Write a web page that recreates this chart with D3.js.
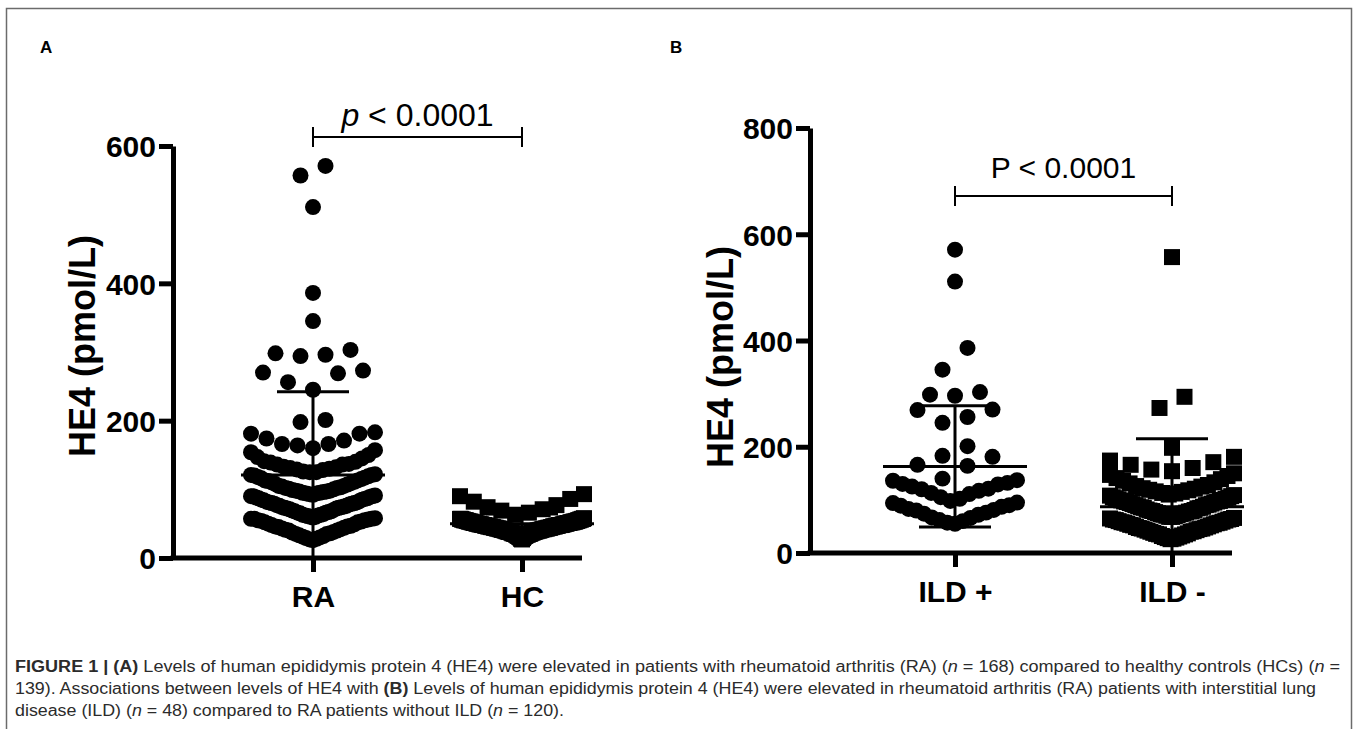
<!DOCTYPE html>
<html>
<head>
<meta charset="utf-8">
<script src="https://cdn.jsdelivr.net/npm/d3@7"></script>
<style>
  body { margin: 0; background: #fff; }
  svg { display: block; }
</style>
</head>
<body>
<svg id="fig" width="1358" height="729"></svg>
<script>
// ---- values ----
const categoriesA = ["RA", "HC"];
const categoriesB = ["ILD +", "ILD -"];
const ticksA = [0, 200, 400, 600];
const ticksB = [0, 200, 400, 600, 800];

// RA patients with ILD (n = 48)
const ildPos = [
  571, 511, 386, 345, 303, 298, 296, 270, 269, 256, 245, 201, 183, 181, 166, 164,
  140, 137, 136, 132, 130, 129, 125, 121, 120, 117, 113, 111, 105, 102,
  98, 95, 94, 90, 89, 87, 83, 81, 80, 76, 74, 72, 67, 66, 62, 60, 57, 55
];

// RA patients without ILD (n = 120)
const ildNeg = [
  557, 294, 273, 198,
  181, 174, 171, 166, 160, 157, 154, 150, 147, 145, 141, 139, 136, 133, 131,
  128, 126, 125, 122, 121, 119, 118, 116, 115, 113, 112, 110, 109, 108, 107,
  105, 104, 103, 102, 101, 100, 99, 98, 97, 97, 96, 95,
  94, 93, 92, 91, 90, 90, 88, 87, 86, 85, 85, 84, 82, 81, 80, 79, 79, 78, 77, 76,
  75, 74, 73, 73, 72, 71, 70, 69, 68, 68, 66, 65, 64, 63, 63, 62, 61, 60, 59, 58,
  57, 57, 56, 55, 54, 53, 52, 52, 50, 49, 48, 47, 46, 46, 45, 44, 43, 42, 41, 40,
  40, 38, 37, 36, 35, 35, 33, 32, 31, 30, 29, 28, 27, 26
];

// all RA patients (n = 168) are the two ILD groups together
const raValues = ildPos.concat(ildNeg);

// healthy controls (n = 139)
const hcValues = [
  93, 90, 86, 82, 77, 74, 71, 69, 66, 63,
  58, 57, 57, 56, 56, 55, 55, 55, 54, 54, 53, 53, 53, 52, 52, 51, 51, 51, 50, 50,
  50, 49, 49, 48, 48, 48, 47, 47, 46, 46, 46, 45, 45, 44, 44, 44, 43, 43, 42, 42,
  42, 41, 41, 40, 40, 40, 39, 39, 38, 38, 38, 37, 37, 36, 36, 35, 35, 35, 34, 34,
  33, 33, 32, 32, 31, 31, 30, 29, 28, 27, 57, 54, 52, 49, 47, 45, 43, 41, 39, 36,
  56, 55, 53, 51, 50, 48, 46, 44, 42, 40, 37, 34, 52, 49, 47, 45, 43, 53, 50, 48,
  46, 44, 41, 38, 55, 51, 47, 43, 39, 35, 54, 46, 42, 50, 48,
  44, 52, 56, 40, 38, 49, 47, 53, 45, 51, 43, 41, 57, 48
];

// mean and SD bars as drawn
const meansA = [121, 50];
const sdsA = [121, 14];
const meansB = [163, 87];
const sdsB = [114, 128];

const pTextA = ["p", " < 0.0001"];
const pTextB = ["", "P < 0.0001"];

const captionLines = [
  [["b", "FIGURE 1 | (A)"], ["", " Levels of human epididymis protein 4 (HE4) were elevated in patients with rheumatoid arthritis (RA) ("],
   ["i", "n"], ["", " = 168) compared to healthy controls (HCs) ("], ["i", "n"], ["", " ="]],
  [["", "139). Associations between levels of HE4 with "], ["b", "(B)"],
   ["", " Levels of human epididymis protein 4 (HE4) were elevated in rheumatoid arthritis (RA) patients with interstitial lung"]],
  [["", "disease (ILD) ("], ["i", "n"], ["", " = 48) compared to RA patients without ILD ("], ["i", "n"], ["", " = 120)."]]
];

// ---- drawing ----
const svg = d3.select("#fig");
const FONT = "'Liberation Sans', Arial, Helvetica, sans-serif";

// figure frame
svg.append("rect")
  .attr("x", 6.5).attr("y", 8.5)
  .attr("width", 1345).attr("height", 740)
  .attr("fill", "none").attr("stroke", "#6b6b6b").attr("stroke-width", 1.5);

// places each group's points in rows, spread out from the centre (Prism style)
function swarm(values, y, cx, rowPx, maxStep, maxHalf) {
  const sorted = values.slice().sort((a, b) => a - b);
  const rows = [];
  let row = [];
  sorted.forEach((v) => {
    if (row.length && y(row[0]) - y(v) > rowPx) {
      rows.push(row);
      row = [];
    }
    row.push(v);
  });
  if (row.length) rows.push(row);

  const pts = [];
  rows.forEach((r) => {
    const n = r.length;
    const step = n > 1 ? Math.min(maxStep, (2 * maxHalf) / (n - 1)) : 0;
    const slots = d3.range(n).map((i) => (i - (n - 1) / 2) * step);
    slots.sort((a, b) => Math.abs(a) - Math.abs(b) || a - b);
    r.forEach((v, i) => pts.push({ v: v, x: cx + slots[i], y: y(v) }));
  });
  return pts;
}

function drawPanel(o) {
  const g = svg.append("g");

  const y = d3.scaleLinear().domain([0, o.ticks[o.ticks.length - 1]]).range([o.y0, o.yTop]);
  const x = d3.scalePoint().domain(o.cats).range(o.catRange);

  // points
  o.series.forEach((vals, i) => {
    const pts = swarm(vals, y, x(o.cats[i]), 22, 25, 62);
    const sym = d3.symbol().type(o.shapes[i]).size(o.shapes[i] === d3.symbolCircle ? 201 : 256);
    g.append("g").selectAll("path")
      .data(pts)
      .join("path")
      .attr("transform", (d) => `translate(${d.x},${d.y})`)
      .attr("d", sym)
      .attr("fill", "#000");
  });

  // mean +/- SD
  o.cats.forEach((c, i) => {
    const cx = x(c);
    const m = o.means[i], s = o.sds[i];
    const bars = g.append("g").attr("stroke", "#000").attr("stroke-width", 3);
    bars.append("line").attr("x1", cx - 72).attr("x2", cx + 72).attr("y1", y(m)).attr("y2", y(m));
    bars.append("line").attr("x1", cx).attr("x2", cx)
      .attr("y1", y(m + s)).attr("y2", y(Math.max(0, m - s)));
    bars.append("line").attr("x1", cx - 36).attr("x2", cx + 36).attr("y1", y(m + s)).attr("y2", y(m + s));
    if (m - s > 0) {
      bars.append("line").attr("x1", cx - 36).attr("x2", cx + 36)
        .attr("y1", y(m - s)).attr("y2", y(m - s));
    }
  });

  // y axis
  const ya = g.append("g")
    .attr("transform", `translate(${o.axisX},0)`)
    .call(d3.axisLeft(y).tickValues(o.ticks).tickSize(14).tickSizeOuter(0).tickPadding(3).tickFormat(d3.format("d")));
  ya.selectAll("path, line").attr("stroke", "#000").attr("stroke-width", 5);
  ya.selectAll("text")
    .attr("font-family", FONT).attr("font-weight", "bold").attr("font-size", 30)
    .attr("fill", "#000").attr("dy", "0.36em");

  // x axis
  const xa = g.append("g")
    .attr("transform", `translate(0,${o.y0})`)
    .call(d3.axisBottom(x).tickSize(14).tickPadding(14));
  xa.select(".domain").remove();
  xa.append("line")
    .attr("x1", o.axisX - 2.5).attr("x2", o.xEnd)
    .attr("stroke", "#000").attr("stroke-width", 5);
  xa.selectAll("line").attr("stroke", "#000").attr("stroke-width", 5);
  xa.selectAll("text")
    .attr("font-family", FONT).attr("font-weight", "bold").attr("font-size", 30)
    .attr("fill", "#000");

  // y axis title
  g.append("text")
    .attr("transform", `translate(${o.titleX},${o.titleY}) rotate(-90)`)
    .attr("text-anchor", "middle")
    .attr("font-family", FONT).attr("font-weight", "bold").attr("font-size", 36)
    .text("HE4 (pmol/L)");

  // significance bracket
  const x1 = x(o.cats[0]), x2 = x(o.cats[1]);
  const br = g.append("g").attr("stroke", "#000").attr("stroke-width", 2);
  br.append("line").attr("x1", x1).attr("x2", x2).attr("y1", o.brY).attr("y2", o.brY);
  [x1, x2].forEach((bx) =>
    br.append("line").attr("x1", bx).attr("x2", bx).attr("y1", o.brY - 10).attr("y2", o.brY + 10));
  const pt = g.append("text")
    .attr("x", (x1 + x2) / 2).attr("y", o.pY)
    .attr("text-anchor", "middle")
    .attr("font-family", FONT).attr("font-size", o.pSize);
  if (o.pText[0]) pt.append("tspan").attr("font-style", "italic").text(o.pText[0]);
  pt.append("tspan").text(o.pText[1]);

  // panel letter
  g.append("text")
    .attr("x", o.letterX).attr("y", 53)
    .attr("font-family", FONT).attr("font-weight", "bold").attr("font-size", 17)
    .text(o.letter);
}

drawPanel({
  letter: "A", letterX: 40,
  cats: categoriesA, series: [raValues, hcValues],
  shapes: [d3.symbolCircle, d3.symbolSquare],
  means: meansA, sds: sdsA, ticks: ticksA,
  y0: 558, yTop: 146, axisX: 173, xEnd: 582, catRange: [313, 522],
  titleX: 95, titleY: 346,
  brY: 137, pY: 126, pSize: 32, pText: pTextA
});

drawPanel({
  letter: "B", letterX: 670,
  cats: categoriesB, series: [ildPos, ildNeg],
  shapes: [d3.symbolCircle, d3.symbolSquare],
  means: meansB, sds: sdsB, ticks: ticksB,
  y0: 553, yTop: 128, axisX: 810, xEnd: 1232, catRange: [955, 1172],
  titleX: 733, titleY: 357,
  brY: 196, pY: 178, pSize: 30, pText: pTextB
});

// caption
const capTargets = [1325, 1301, null];
const cap = svg.append("g")
  .attr("font-family", FONT).attr("font-size", 16).attr("fill", "#2b2b2b");
let ratio = 1;
captionLines.forEach((segs, li) => {
  const t = cap.append("text").attr("x", 15).attr("y", 672 + li * 22);
  segs.forEach(([style, str]) => {
    const s = t.append("tspan").text(str);
    if (style === "b") s.attr("font-weight", "bold");
    if (style === "i") s.attr("font-style", "italic");
  });
  const w = t.node().getComputedTextLength();
  if (capTargets[li]) {
    ratio = capTargets[li] / w;
    t.attr("textLength", capTargets[li]).attr("lengthAdjust", "spacingAndGlyphs");
  } else {
    t.attr("textLength", w * ratio).attr("lengthAdjust", "spacingAndGlyphs");
  }
});
</script>
</body>
</html>
